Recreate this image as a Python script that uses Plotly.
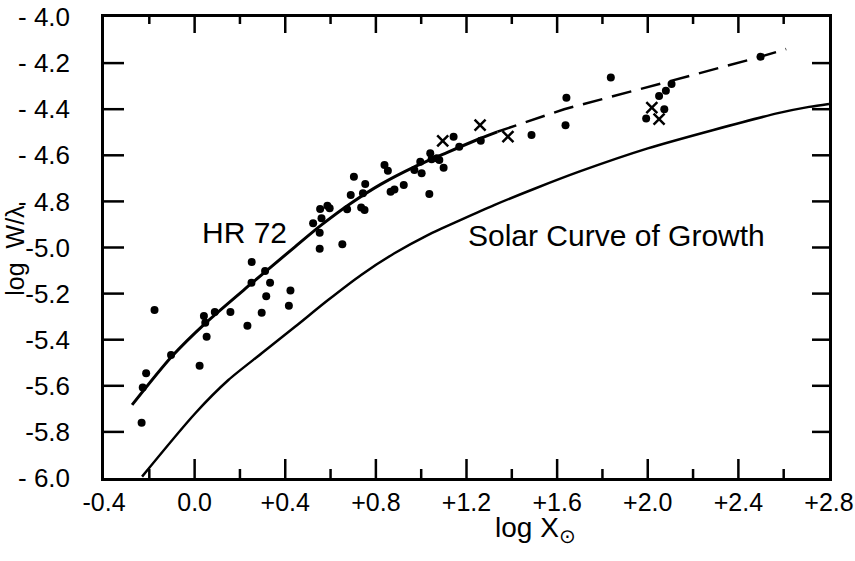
import plotly.graph_objects as go

# ---- data ----
dots_x = [-0.234, -0.229, -0.214, -0.177, -0.104, 0.022, 0.041, 0.047, 0.053, 0.089,
          0.158, 0.233, 0.252, 0.251, 0.296, 0.311, 0.316, 0.333, 0.416, 0.423,
          0.523, 0.554, 0.560, 0.552, 0.552, 0.586, 0.596, 0.652, 0.673, 0.735,
          0.750, 0.689, 0.703, 0.743, 0.753, 0.838, 0.853, 0.865, 0.882, 0.923,
          0.970, 0.996, 1.002, 1.036, 1.040, 1.046, 1.069, 1.080, 1.099, 1.143,
          1.168, 1.263, 1.487, 1.637, 1.641, 1.837, 2.498, 1.993, 2.050, 2.073,
          2.080, 2.105]
dots_y = [-5.760, -5.607, -5.546, -5.271, -5.466, -5.513, -5.297, -5.326, -5.387, -5.280,
          -5.280, -5.339, -5.063, -5.153, -5.283, -5.102, -5.212, -5.153, -5.253, -5.187,
          -4.895, -4.833, -4.873, -4.936, -5.005, -4.819, -4.830, -4.986, -4.834, -4.826,
          -4.837, -4.772, -4.693, -4.765, -4.725, -4.642, -4.667, -4.758, -4.748, -4.729,
          -4.664, -4.628, -4.678, -4.768, -4.591, -4.617, -4.613, -4.620, -4.654, -4.519,
          -4.563, -4.537, -4.512, -4.470, -4.350, -4.263, -4.172, -4.440, -4.343, -4.400,
          -4.320, -4.291]

cross_x = [1.095, 1.260, 1.383, 2.018, 2.050]
cross_y = [-4.537, -4.469, -4.519, -4.393, -4.443]

hr72_x = [-0.276, -0.10, 0.047, 0.252, 0.443, 0.56, 0.69, 0.823, 0.97, 1.116, 1.263, 1.336]
hr72_y = [-5.683, -5.472, -5.329, -5.155, -4.997, -4.902, -4.808, -4.725, -4.650, -4.587, -4.526, -4.498]

hr72_ext_x = [1.336, 1.631, 2.084, 2.492, 2.611]
hr72_ext_y = [-4.498, -4.400, -4.282, -4.174, -4.139]

solar_x = [-0.232, 0.003, 0.149, 0.296, 0.443, 0.589, 0.735, 0.882, 1.029, 1.175, 1.322,
           1.50, 1.70, 2.0, 2.29, 2.58, 2.712, 2.8]
solar_y = [-5.994, -5.719, -5.575, -5.459, -5.344, -5.228, -5.119, -5.025, -4.946, -4.880, -4.816,
           -4.745, -4.670, -4.570, -4.490, -4.416, -4.390, -4.377]

x_ticks = [-0.4, 0.0, 0.4, 0.8, 1.2, 1.6, 2.0, 2.4, 2.8]
x_ticktext = ["-0.4", "0.0", "+0.4", "+0.8", "+1.2", "+1.6", "+2.0", "+2.4", "+2.8"]
y_ticks = [-4.0, -4.2, -4.4, -4.6, -4.8, -5.0, -5.2, -5.4, -5.6, -5.8, -6.0]
y_ticktext = ["- 4.0", "- 4.2", "- 4.4", "- 4.6", "- 4.8", "-5.0", "-5.2", "-5.4", "-5.6", "-5.8", "- 6.0"]

X_RANGE = [-0.4, 2.8]
Y_RANGE = [-6.0, -4.0]
FONT = "Liberation Sans"
LW = 2.5

W, H = 855, 561
ML, MR, MT, MB = 104, 26, 17, 83
PX_X = (X_RANGE[1] - X_RANGE[0]) / (W - ML - MR)   # data units per pixel (x)
PX_Y = (Y_RANGE[1] - Y_RANGE[0]) / (H - MT - MB)   # data units per pixel (y)

fig = go.Figure()
fig.add_trace(go.Scatter(x=solar_x, y=solar_y, mode="lines",
                         line=dict(color="black", width=2.5, shape="spline", smoothing=0.8), showlegend=False))
fig.add_trace(go.Scatter(x=hr72_x, y=hr72_y, mode="lines",
                         line=dict(color="black", width=3, shape="spline", smoothing=0.8), showlegend=False))
fig.add_trace(go.Scatter(x=hr72_ext_x, y=hr72_ext_y, mode="lines",
                         line=dict(color="black", width=2.5, dash="20px,10px"), showlegend=False))
fig.add_trace(go.Scatter(x=dots_x, y=dots_y, mode="markers", marker=dict(color="black", size=8), showlegend=False))
fig.add_trace(go.Scatter(x=cross_x, y=cross_y, mode="markers",
                         marker=dict(symbol="x-thin", size=11, line=dict(color="black", width=2.5)),
                         showlegend=False))

# inward-pointing tick marks, built from the tick arrays and the axis ranges
tx, ty = [], []
x_minor = [(a + b) / 2 for a, b in zip(x_ticks[:-1], x_ticks[1:])]
for t in x_ticks[1:-1]:
    tx += [t, t, None, t, t, None]
    ty += [Y_RANGE[0], Y_RANGE[0] + 19 * PX_Y, None, Y_RANGE[1], Y_RANGE[1] - 16 * PX_Y, None]
for t in x_minor:
    tx += [t, t, None, t, t, None]
    ty += [Y_RANGE[0], Y_RANGE[0] + 9 * PX_Y, None, Y_RANGE[1], Y_RANGE[1] - 7 * PX_Y, None]
for t in y_ticks[1:-1]:
    tx += [X_RANGE[0], X_RANGE[0] + 20 * PX_X, None, X_RANGE[1], X_RANGE[1] - 17 * PX_X, None]
    ty += [t, t, None, t, t, None]
fig.add_trace(go.Scatter(x=tx, y=ty, mode="lines", line=dict(color="black", width=LW),
                         hoverinfo="skip", showlegend=False))

fig.add_annotation(x=0.218, y=-4.933, text="HR 72", showarrow=False,
                   font=dict(family=FONT, size=30, color="black"))
fig.add_annotation(x=1.864, y=-4.950, text="Solar Curve of Growth", showarrow=False,
                   font=dict(family=FONT, size=30, color="black"))

fig.add_annotation(xref="paper", yref="paper", x=-0.145, y=0.495, text="log  W/λ", textangle=-90,
                   showarrow=False, font=dict(family=FONT, size=25, color="black"))
fig.add_annotation(xref="paper", yref="paper", x=0.595, y=-0.153, text="log X<sub>⊙</sub>", showarrow=False,
                   font=dict(family=FONT, size=28, color="black"))

common = dict(showgrid=False, zeroline=False, automargin=False)

fig.update_layout(
    width=W, height=H, margin=dict(l=ML, r=MR, t=MT, b=MB),
    plot_bgcolor="white", paper_bgcolor="white",
    xaxis=dict(range=X_RANGE, tickmode="array", tickvals=x_ticks, ticktext=x_ticktext, ticks="",
               showline=True, linewidth=LW, linecolor="black", mirror=True,
               tickfont=dict(family=FONT, size=25, color="black"), ticklabeloverflow="allow", **common),
    yaxis=dict(range=Y_RANGE, tickmode="array", tickvals=y_ticks, ticktext=y_ticktext, ticks="",
               showline=True, linewidth=LW, linecolor="black", mirror=True,
               tickfont=dict(family=FONT, size=26, color="black"), ticklabelstandoff=26, **common),
)

fig.write_html("out.html")
